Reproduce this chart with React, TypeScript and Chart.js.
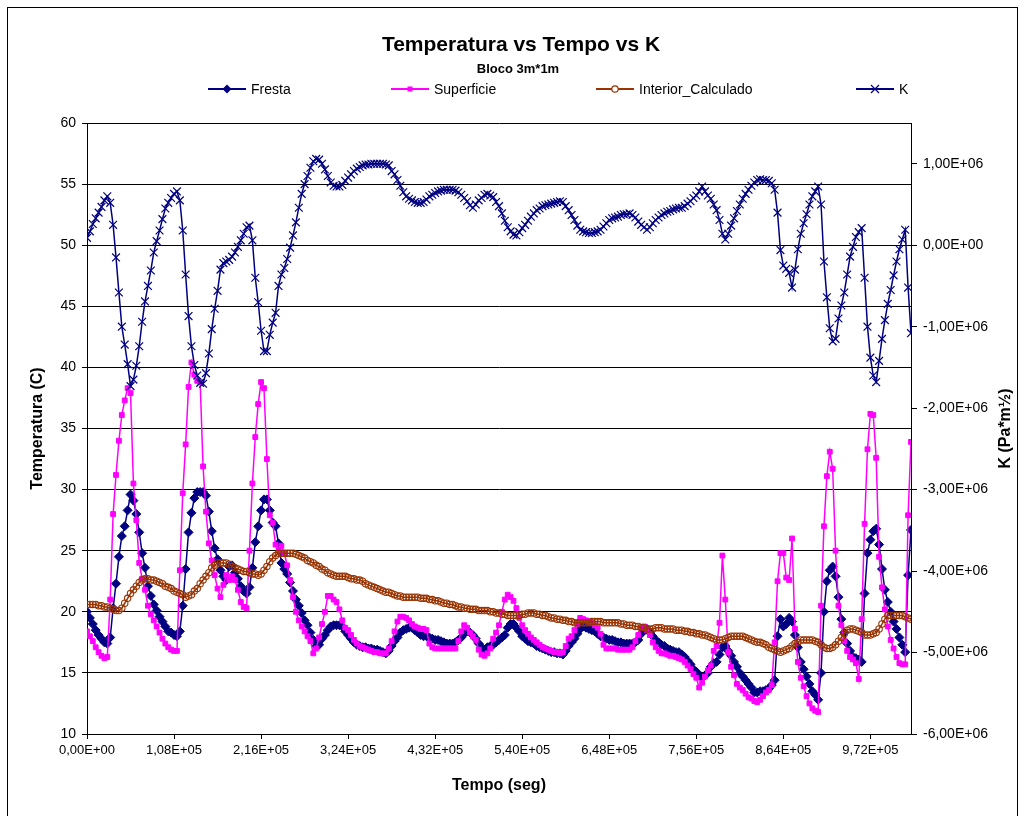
import React, { useEffect, useRef } from "react";
import { Chart, registerables } from "chart.js";

Chart.register(...registerables);

// one reading per hour (seconds)
const SECONDS_PER_READING = 3600;

const fresta = [
  20.0, 19.5, 19.0, 18.5, 18.1, 17.8, 17.5, 17.4, 17.9, 20.3,
  22.3, 24.5, 26.2, 27.0, 28.3, 29.6, 29.1, 28.0, 26.5, 24.8,
  23.6, 22.1, 21.3, 20.6, 20.1, 19.6, 19.2, 18.8, 18.4, 18.3,
  18.1, 18.0, 18.4, 20.5, 23.5, 26.5, 28.1, 29.3, 29.8, 29.8,
  29.8, 29.5, 28.2, 26.6, 25.2, 24.3, 23.4, 22.9, 22.6, 23.7,
  23.8, 23.2, 22.7, 22.1, 21.7, 21.5, 22.0, 23.6, 25.7, 27.0,
  28.3, 29.2, 29.2, 28.3, 27.3, 27.0, 25.6, 24.0, 23.5, 23.1,
  22.4, 21.7, 21.0, 20.5, 19.9, 19.3, 18.9, 18.3, 17.7, 17.2,
  17.3, 17.8, 18.1, 18.5, 18.8, 18.9, 18.9, 18.9, 18.8, 18.4,
  18.1, 17.8, 17.5, 17.3, 17.2, 17.1, 17.1, 17.0, 17.0, 16.9,
  16.9, 16.8, 16.7, 16.6, 16.8, 17.2, 17.6, 17.9, 18.3, 18.5,
  18.6, 18.7, 18.7, 18.5, 18.3, 18.1, 18.0, 18.0, 17.9, 17.8,
  17.7, 17.7, 17.6, 17.5, 17.4, 17.4, 17.4, 17.5, 17.7, 17.9,
  18.2, 18.4, 18.3, 18.1, 17.8, 17.4, 17.1, 16.9, 17.1, 17.2,
  17.3, 17.5, 17.7, 17.9, 18.1, 18.7, 19.0, 19.0, 18.7, 18.4,
  18.0, 17.8, 17.6, 17.5, 17.4, 17.2, 17.1, 17.0, 16.9, 16.8,
  16.7, 16.7, 16.6, 16.6, 16.5, 16.8, 17.2, 17.5, 17.8, 18.2,
  18.6, 18.8, 18.7, 18.6, 18.5, 18.4, 18.2, 18.0, 17.9, 17.8,
  17.7, 17.7, 17.6, 17.5, 17.5, 17.4, 17.4, 17.4, 17.4, 17.5,
  17.7, 18.2, 18.5, 18.6, 18.3, 18.0, 17.7, 17.5, 17.3, 17.2,
  17.0, 16.9, 16.8, 16.7, 16.7, 16.5, 16.3, 16.0, 15.7, 15.3,
  15.1, 14.8, 14.6, 14.8, 15.0, 15.5, 15.8, 15.9, 16.5, 17.1,
  17.2, 16.8, 16.4, 15.9, 15.5, 15.0, 14.7, 14.4, 14.1, 13.8,
  13.4, 13.4, 13.5, 13.5, 13.6, 13.7, 14.0, 14.4, 18.0, 19.4,
  18.8, 19.0, 19.5, 19.2, 18.1, 17.1, 15.9, 15.3, 14.7, 14.1,
  13.5, 13.2, 12.8, 15.0, 20.0, 22.5, 23.4, 23.7, 22.9, 21.2,
  19.4, 18.3, 17.4, 16.8, 16.3, 16.2, 16.1, 15.9, 21.5, 24.8,
  25.9, 26.6, 26.8, 25.5, 23.5, 21.8, 20.8, 20.0, 19.2, 18.6,
  17.9, 17.3, 16.7, 23.0, 26.7,
];

const superficie = [
  18.4, 18.0, 17.6, 17.1, 16.7, 16.4, 16.2, 16.3, 21.0, 28.0,
  31.2, 34.0, 36.1, 37.3, 38.3, 37.9, 30.5, 27.5, 24.0, 22.7,
  21.8, 20.5, 19.8, 19.3, 18.8, 18.3, 17.8, 17.4, 17.1, 16.9,
  16.8, 16.8, 23.4, 29.7, 33.7, 38.4, 40.4, 39.4, 38.9, 38.8,
  31.9, 28.2, 25.6, 24.2, 23.0, 21.9, 21.2, 22.2, 23.0, 22.6,
  22.9, 22.6, 21.8, 20.8, 20.4, 20.3, 25.0, 30.5, 34.3, 37.0,
  38.8, 38.3, 32.5, 27.9, 27.3, 25.5, 25.0, 25.4, 24.8, 23.8,
  22.6, 21.2, 20.0, 19.3, 18.8, 18.4, 18.0, 17.6, 16.6, 17.0,
  17.9, 19.0, 20.0, 21.3, 21.3, 21.0, 20.8, 20.2, 19.3, 18.7,
  18.5, 18.1, 17.7, 17.4, 17.2, 17.1, 17.0, 16.9, 16.8, 16.7,
  16.7, 16.6, 16.6, 16.6, 17.0, 17.6, 18.4, 19.2, 19.6, 19.6,
  19.5, 19.3, 19.0, 18.8, 18.7, 18.6, 18.6, 18.5, 17.4, 17.1,
  17.0, 17.0, 17.0, 17.0, 17.0, 17.0, 17.0, 17.0, 17.6, 18.4,
  18.9, 18.7, 18.3, 18.0, 17.7, 16.9, 16.5, 16.4, 16.6, 17.0,
  17.8, 18.3, 18.9, 20.0, 21.0, 21.4, 21.2, 20.9, 20.3, 19.5,
  18.9, 18.5, 18.2, 17.9, 17.7, 17.5, 17.3, 17.1, 17.0, 16.9,
  16.8, 16.7, 16.7, 16.6, 16.7, 17.2, 17.8, 18.0, 18.5, 19.0,
  19.5, 19.4, 19.3, 19.2, 19.1, 18.9, 18.7, 18.2, 17.3, 17.0,
  17.0, 17.0, 17.0, 16.9, 16.9, 16.9, 16.9, 16.9, 17.1, 17.6,
  18.1, 18.7, 18.8, 18.5, 18.1, 17.5, 17.1, 16.8, 16.6, 16.6,
  16.5, 16.4, 16.4, 16.3, 16.2, 16.1, 15.9, 15.6, 15.3, 14.9,
  14.6, 13.8, 14.2, 14.7, 15.2, 15.6, 16.8, 17.2, 19.1, 24.6,
  21.0, 16.7, 15.5, 14.8, 14.1, 13.8, 13.6, 13.3, 13.0, 12.9,
  12.7, 12.6, 12.8, 13.1, 13.4, 13.6, 14.0, 17.5, 22.5, 24.8,
  24.8, 22.8, 22.6, 26.0, 18.6, 15.9, 14.6, 13.9, 13.1, 12.5,
  12.1, 11.9, 11.8, 20.5, 27.0, 31.1, 33.1, 31.7, 25.0, 20.5,
  18.9, 17.6, 16.8, 16.3, 16.1, 15.8, 14.5, 19.4, 27.2, 33.3,
  36.2, 36.1, 32.6, 24.5, 22.0, 20.2, 18.8, 17.7, 17.0, 16.3,
  15.8, 15.7, 15.7, 27.9, 33.9,
];

const interiorCalculado = [
  20.6, 20.6, 20.6, 20.6, 20.5, 20.5, 20.4, 20.4, 20.3, 20.2,
  20.1, 20.1, 20.3, 20.7, 21.1, 21.5, 21.8, 22.1, 22.4, 22.6,
  22.7, 22.7, 22.6, 22.6, 22.5, 22.4, 22.3, 22.1, 22.0, 21.9,
  21.7, 21.6, 21.5, 21.4, 21.2, 21.3, 21.4, 21.7, 21.9, 22.3,
  22.6, 22.9, 23.2, 23.6, 23.8, 24.0, 24.0, 24.0, 24.0, 23.9,
  23.7, 23.6, 23.5, 23.4, 23.3, 23.3, 23.2, 23.1, 23.1, 23.0,
  23.1, 23.4, 23.7, 24.1, 24.4, 24.6, 24.8, 24.8, 24.8, 24.8,
  24.8, 24.8, 24.7, 24.6, 24.5, 24.4, 24.2, 24.1, 24.0, 23.8,
  23.7, 23.5, 23.4, 23.2, 23.1, 23.0, 22.9, 22.9, 22.9, 22.9,
  22.8, 22.7, 22.7, 22.6, 22.6, 22.5, 22.3, 22.2, 22.1, 22.0,
  21.9, 21.8, 21.7, 21.6, 21.6, 21.5, 21.4, 21.3, 21.3, 21.2,
  21.2, 21.2, 21.2, 21.2, 21.2, 21.1, 21.1, 21.1, 21.0, 21.0,
  20.9, 20.9, 20.8, 20.7, 20.7, 20.6, 20.6, 20.5, 20.4, 20.4,
  20.3, 20.3, 20.2, 20.2, 20.2, 20.1, 20.1, 20.1, 20.1, 20.0,
  20.0, 19.9, 19.9, 19.8, 19.8, 19.7, 19.7, 19.7, 19.7, 19.7,
  19.8, 19.8, 19.9, 19.9, 19.9, 19.8, 19.8, 19.7, 19.7, 19.6,
  19.5, 19.5, 19.4, 19.4, 19.3, 19.3, 19.2, 19.2, 19.1, 19.1,
  19.1, 19.1, 19.1, 19.1, 19.2, 19.2, 19.2, 19.2, 19.1, 19.1,
  19.1, 19.1, 19.1, 19.1, 19.0, 19.0, 18.9, 18.9, 18.9, 18.8,
  18.8, 18.7, 18.7, 18.6, 18.6, 18.6, 18.7, 18.7, 18.7, 18.6,
  18.6, 18.6, 18.6, 18.5, 18.5, 18.5, 18.4, 18.4, 18.3, 18.3,
  18.2, 18.2, 18.1, 18.1, 18.0, 17.9, 17.8, 17.7, 17.7, 17.7,
  17.8, 17.9, 18.0, 18.0, 18.0, 18.0, 18.0, 17.9, 17.8, 17.7,
  17.6, 17.5, 17.5, 17.4, 17.3, 17.1, 17.0, 16.9, 16.8, 16.7,
  16.8, 16.9, 17.0, 17.2, 17.4, 17.5, 17.7, 17.7, 17.7, 17.7,
  17.7, 17.6, 17.5, 17.3, 17.1, 17.0, 17.0, 17.1, 17.3, 17.6,
  17.9, 18.2, 18.5, 18.6, 18.6, 18.5, 18.4, 18.3, 18.1, 18.1,
  18.1, 18.2, 18.3, 18.6, 19.0, 19.4, 19.7, 19.7, 19.7, 19.7,
  19.7, 19.7, 19.6, 19.5, 19.4,
];

// K in millions of Pa*m½
const kMillions = [
  0.09, 0.17, 0.26, 0.33, 0.40, 0.47, 0.55, 0.60, 0.52, 0.25,
  -0.15, -0.58, -1.00, -1.22, -1.46, -1.73, -1.65, -1.48, -1.24, -0.94,
  -0.69, -0.50, -0.31, -0.09, 0.05, 0.18, 0.32, 0.45, 0.52, 0.58,
  0.63, 0.66, 0.55, 0.18, -0.36, -0.87, -1.24, -1.47, -1.60, -1.69,
  -1.70, -1.57, -1.33, -1.03, -0.78, -0.56, -0.30, -0.22, -0.20, -0.18,
  -0.14, -0.09, -0.02, 0.06, 0.14, 0.22, 0.24, 0.06, -0.40, -0.70,
  -1.05, -1.30, -1.30, -1.10, -0.95, -0.83, -0.50, -0.36, -0.28, -0.17,
  -0.03, 0.12, 0.28, 0.46, 0.63, 0.75, 0.85, 0.95, 1.03, 1.06,
  1.05, 1.00, 0.93, 0.85, 0.77, 0.73, 0.72, 0.72, 0.74, 0.79,
  0.83, 0.87, 0.91, 0.94, 0.96, 0.98, 0.99, 0.99, 1.00, 1.00,
  1.00, 1.00, 1.00, 0.99, 0.98, 0.91, 0.87, 0.80, 0.73, 0.65,
  0.60, 0.57, 0.55, 0.53, 0.52, 0.52, 0.53, 0.56, 0.60, 0.62,
  0.64, 0.66, 0.67, 0.68, 0.68, 0.68, 0.68, 0.67, 0.65, 0.62,
  0.58, 0.54, 0.49, 0.46, 0.50, 0.55, 0.58, 0.62, 0.63, 0.61,
  0.59, 0.53, 0.48, 0.39, 0.30, 0.22, 0.17, 0.13, 0.12, 0.16,
  0.21, 0.25, 0.30, 0.35, 0.39, 0.43, 0.45, 0.48, 0.49, 0.50,
  0.51, 0.52, 0.53, 0.54, 0.53, 0.48, 0.43, 0.37, 0.31, 0.24,
  0.19, 0.17, 0.16, 0.15, 0.15, 0.16, 0.17, 0.19, 0.23, 0.27,
  0.31, 0.33, 0.34, 0.35, 0.37, 0.38, 0.38, 0.39, 0.37, 0.34,
  0.29, 0.25, 0.22, 0.19, 0.22, 0.27, 0.31, 0.34, 0.37, 0.39,
  0.41, 0.42, 0.44, 0.45, 0.46, 0.46, 0.48, 0.51, 0.54, 0.58,
  0.61, 0.66, 0.72, 0.66, 0.61, 0.57, 0.50, 0.43, 0.31, 0.14,
  0.07, 0.14, 0.24, 0.33, 0.42, 0.50, 0.57, 0.63, 0.68, 0.73,
  0.77, 0.80, 0.81, 0.80, 0.80, 0.79, 0.76, 0.68, 0.40, -0.06,
  -0.25, -0.29, -0.34, -0.52, -0.30, -0.05, 0.14, 0.27, 0.38, 0.50,
  0.60, 0.66, 0.72, 0.50, -0.20, -0.64, -1.02, -1.18, -1.15, -0.90,
  -0.74, -0.58, -0.36, -0.14, -0.02, 0.10, 0.16, 0.21, -0.40, -1.00,
  -1.38, -1.60, -1.68, -1.42, -1.15, -0.92, -0.72, -0.55, -0.37, -0.20,
  -0.05, 0.07, 0.19, -0.52, -1.08,
];

// axis tick values
const X_TICKS = [0, 108000, 216000, 324000, 432000, 540000, 648000, 756000, 864000, 972000];
const TEMP_TICKS = [10, 15, 20, 25, 30, 35, 40, 45, 50, 55, 60];
const K_TICKS = [-6e6, -5e6, -4e6, -3e6, -2e6, -1e6, 0, 1e6];
const K_MIN = -6e6;
const K_MAX = 1.5e6;

const TITLE = "Temperatura vs Tempo vs K";
const SUBTITLE = "Bloco 3m*1m";
const X_TITLE = "Tempo (seg)";
const Y_TITLE = "Temperatura (C)";
const Y1_TITLE = "K (Pa*m½)";

const FONT = '"Liberation Sans", Arial, sans-serif';
const NAVY = "#000080";
const MAGENTA = "#FF00FF";
const BROWN = "#993300";

function sci(v: number): string {
  if (v === 0) return "0,00E+00";
  const exp = Math.floor(Math.log10(Math.abs(v)) + 1e-9);
  const mant = v / Math.pow(10, exp);
  const e = (exp < 0 ? "-" : "+") + String(Math.abs(exp)).padStart(2, "0");
  return mant.toFixed(2).replace(".", ",") + "E" + e;
}

const toPoints = (arr: number[], scale = 1) =>
  arr.map((v, i) => ({ x: i * SECONDS_PER_READING, y: v * scale }));

function drawMarker(ctx: CanvasRenderingContext2D, style: string, x: number, y: number, color: string) {
  ctx.save();
  ctx.fillStyle = color;
  ctx.strokeStyle = color;
  ctx.lineWidth = 1.2;
  ctx.beginPath();
  if (style === "diamond") {
    ctx.moveTo(x, y - 4.5);
    ctx.lineTo(x + 4.5, y);
    ctx.lineTo(x, y + 4.5);
    ctx.lineTo(x - 4.5, y);
    ctx.closePath();
    ctx.fill();
  } else if (style === "square") {
    ctx.rect(x - 2.5, y - 2.5, 5, 5);
    ctx.fill();
  } else if (style === "circle") {
    ctx.fillStyle = "#fff";
    ctx.arc(x, y, 3.2, 0, Math.PI * 2);
    ctx.fill();
    ctx.stroke();
  } else {
    ctx.moveTo(x - 4, y - 4);
    ctx.lineTo(x + 4, y + 4);
    ctx.moveTo(x + 4, y - 4);
    ctx.lineTo(x - 4, y + 4);
    ctx.stroke();
  }
  ctx.restore();
}

const decorPlugin = {
  id: "decor",
  afterDraw(chart: any) {
    const ctx: CanvasRenderingContext2D = chart.ctx;
    const area = chart.chartArea;
    ctx.save();
    // outer chart border
    ctx.strokeStyle = "#000";
    ctx.lineWidth = 1;
    ctx.strokeRect(7.5, 7.5, 1010, 830);

    ctx.fillStyle = "#000";
    ctx.textAlign = "center";
    ctx.textBaseline = "middle";
    ctx.font = `bold 21px ${FONT}`;
    ctx.fillText(TITLE, 521, 45);
    ctx.font = `bold 13px ${FONT}`;
    ctx.fillText(SUBTITLE, 518, 69);

    // legend
    const items = [
      { label: chart.data.datasets[0].label, color: NAVY, marker: "diamond", x: 208 },
      { label: chart.data.datasets[1].label, color: MAGENTA, marker: "square", x: 391 },
      { label: chart.data.datasets[2].label, color: BROWN, marker: "circle", x: 596 },
      { label: chart.data.datasets[3].label, color: NAVY, marker: "cross", x: 856 },
    ];
    const ly = 89;
    ctx.font = `14px ${FONT}`;
    ctx.textAlign = "left";
    for (const it of items) {
      ctx.strokeStyle = it.color;
      ctx.lineWidth = 2;
      ctx.beginPath();
      ctx.moveTo(it.x, ly);
      ctx.lineTo(it.x + 38, ly);
      ctx.stroke();
      drawMarker(ctx, it.marker, it.x + 19, ly, it.color);
      ctx.fillStyle = "#000";
      ctx.fillText(it.label, it.x + 43, ly + 1);
    }

    // axis titles
    ctx.font = `bold 16px ${FONT}`;
    ctx.textAlign = "center";
    ctx.fillText(X_TITLE, (area.left + area.right) / 2, 786);
    const cy = (area.top + area.bottom) / 2;
    ctx.save();
    ctx.translate(38, cy);
    ctx.rotate(-Math.PI / 2);
    ctx.fillText(Y_TITLE, 0, 0);
    ctx.restore();
    ctx.save();
    ctx.translate(1006, cy);
    ctx.rotate(-Math.PI / 2);
    ctx.fillText(Y1_TITLE, 0, 0);
    ctx.restore();
    ctx.restore();
  },
};

const setTicks = (values: number[]) => (scale: any) => {
  scale.ticks = values.map((v) => ({ value: v }));
};

export default function App() {
  const canvasRef = useRef<HTMLCanvasElement | null>(null);

  useEffect(() => {
    if (!canvasRef.current) return;
    Chart.defaults.font.family = FONT;
    Chart.defaults.color = "#000";
    const xMax = (fresta.length - 1) * SECONDS_PER_READING;

    const chart = new Chart(canvasRef.current, {
      type: "line",
      data: {
        datasets: [
          {
            label: "Fresta",
            data: toPoints(fresta),
            borderColor: NAVY,
            backgroundColor: NAVY,
            borderWidth: 1.5,
            pointStyle: "rectRot",
            pointRadius: 4.5,
            pointBackgroundColor: NAVY,
            pointBorderColor: NAVY,
            pointBorderWidth: 1,
            yAxisID: "y",
            order: 4,
          },
          {
            label: "Superficie",
            data: toPoints(superficie),
            borderColor: MAGENTA,
            backgroundColor: MAGENTA,
            borderWidth: 1.5,
            pointStyle: "rect",
            pointRadius: 3.4,
            pointBackgroundColor: MAGENTA,
            pointBorderColor: MAGENTA,
            pointBorderWidth: 1,
            yAxisID: "y",
            order: 3,
          },
          {
            label: "Interior_Calculado",
            data: toPoints(interiorCalculado),
            borderColor: BROWN,
            backgroundColor: "rgba(255,255,255,0)",
            borderWidth: 1.5,
            pointStyle: "circle",
            pointRadius: 3.2,
            pointBackgroundColor: "rgba(255,255,255,0)",
            pointBorderColor: BROWN,
            pointBorderWidth: 1.1,
            yAxisID: "y",
            order: 2,
          },
          {
            label: "K",
            data: toPoints(kMillions, 1e6),
            borderColor: NAVY,
            backgroundColor: NAVY,
            borderWidth: 1.5,
            pointStyle: "crossRot",
            pointRadius: 5.5,
            pointBorderColor: NAVY,
            pointBorderWidth: 1.2,
            yAxisID: "y1",
            order: 1,
          },
        ],
      },
      options: {
        responsive: false,
        animation: false,
        events: [],
        layout: { padding: { top: 123, left: 0, right: 0, bottom: 0 } },
        plugins: {
          legend: { display: false },
          title: { display: false },
          tooltip: { enabled: false },
        },
        elements: { line: { tension: 0 } },
        scales: {
          x: {
            type: "linear",
            position: "bottom",
            min: 0,
            max: xMax,
            afterBuildTicks: setTicks(X_TICKS),
            ticks: {
              autoSkip: false,
              maxRotation: 0,
              minRotation: 0,
              padding: 4,
              color: "#000",
              font: { size: 13, family: FONT },
              callback: (v: any) => sci(Number(v)),
            },
            grid: { drawOnChartArea: false, drawTicks: true, tickLength: 5, color: "#000" },
            border: { color: "#000", width: 1 },
            afterFit: (s: any) => {
              s.height = 82;
            },
          },
          y: {
            type: "linear",
            position: "left",
            min: TEMP_TICKS[0],
            max: TEMP_TICKS[TEMP_TICKS.length - 1],
            afterBuildTicks: setTicks(TEMP_TICKS),
            ticks: {
              padding: 6,
              color: "#000",
              font: { size: 14, family: FONT },
            },
            grid: { color: "#000", lineWidth: 1, tickLength: 5 },
            border: { color: "#000", width: 1 },
            afterFit: (s: any) => {
              s.width = 87;
            },
          },
          y1: {
            type: "linear",
            position: "right",
            min: K_MIN,
            max: K_MAX,
            afterBuildTicks: setTicks(K_TICKS),
            ticks: {
              padding: 6,
              color: "#000",
              font: { size: 14, family: FONT },
              callback: (v: any) => sci(Number(v)),
            },
            grid: { drawOnChartArea: false, tickLength: 6, color: "#000" },
            border: { color: "#000", width: 1 },
            afterFit: (s: any) => {
              s.width = 124;
            },
          },
        },
      },
      plugins: [decorPlugin],
    });
    return () => chart.destroy();
  }, []);

  return (
    <div style={{ position: "absolute", left: 0, top: 0, width: 1035, height: 816, background: "#fff" }}>
      <canvas ref={canvasRef} width={1035} height={816} />
    </div>
  );
}
